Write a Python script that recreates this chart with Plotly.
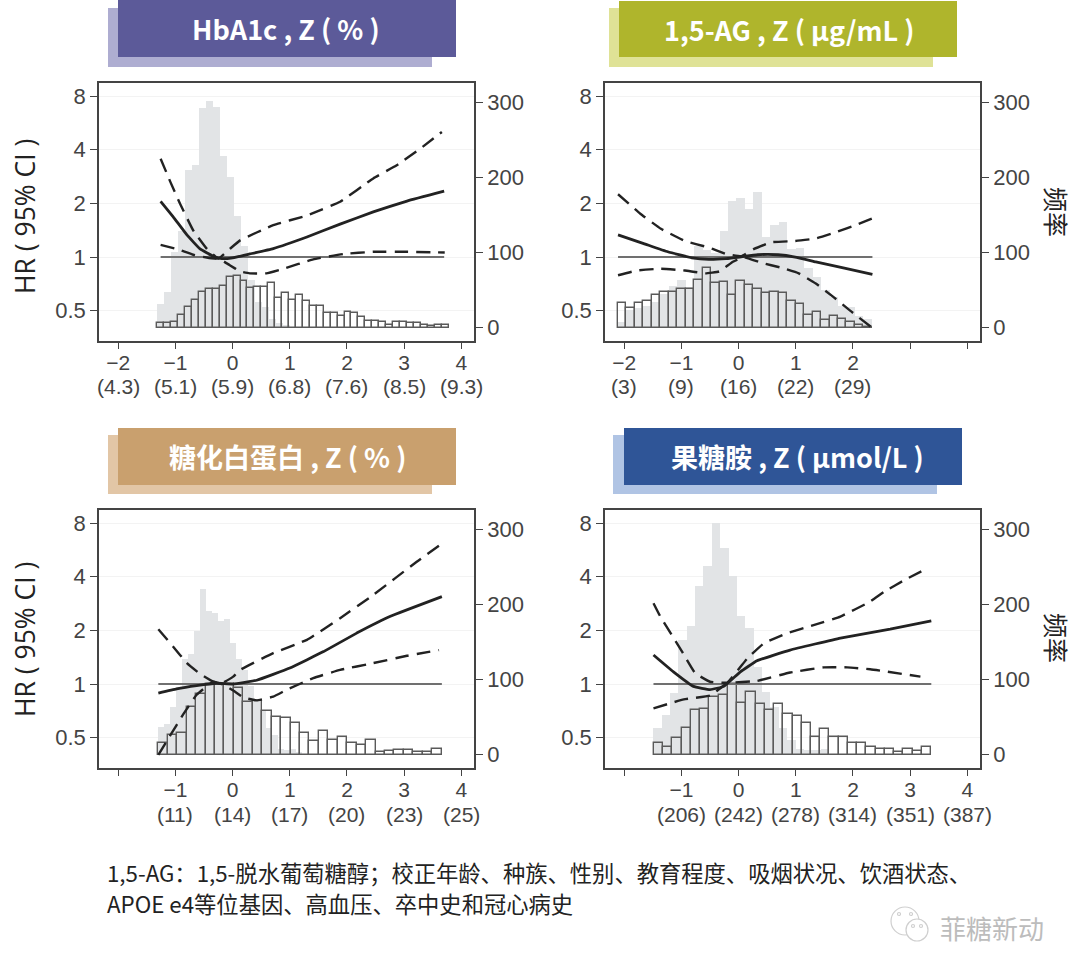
import plotly.graph_objects as go

W, H = 1080, 974
# ---------- tick text ----------
z_ticks = [-2, -1, 0, 1, 2, 3, 4]
hr_ticks = [0.5, 1, 2, 4, 8]
freq_ticks = [0, 100, 200, 300]
labels_top = [
    ["−2", "−1", "0", "1", "2", "3", "4"],
    ["−2", "−1", "0", "1", "2", "", ""],
    ["", "−1", "0", "1", "2", "3", "4"],
    ["", "−1", "0", "1", "2", "3", "4"],
]
labels_raw = [
    ["(4.3)", "(5.1)", "(5.9)", "(6.8)", "(7.6)", "(8.5)", "(9.3)"],
    ["(3)", "(9)", "(16)", "(22)", "(29)", "", ""],
    ["", "(11)", "(14)", "(17)", "(20)", "(23)", "(25)"],
    ["", "(206)", "(242)", "(278)", "(314)", "(351)", "(387)"],
]
titles = ["HbA1c , Z ( % )", "1,5-AG , Z ( µg/mL )", "糖化白蛋白 , Z ( % )", "果糖胺 , Z ( µmol/L )"]

# ---------- panel 1 HbA1c ----------
p1_z = [-1.26, -1.04, -.80, -.57, -.34, -.19, 0, .30, .71, 1.30, 1.88, 2.46, 3.05, 3.70]
p1_hr = [2.05, 1.68, 1.33, 1.11, 1.01, .98, .99, 1.04, 1.115, 1.295, 1.53, 1.79, 2.06, 2.34]
p1_up_z = [-1.26, -1.09, -.92, -.69, -.45, -.25, -.05, .13, .71, 1.30, 1.88, 2.46, 2.87, 3.28, 3.66]
p1_up = [3.56, 2.64, 1.99, 1.41, 1.11, .98, 1.11, 1.24, 1.51, 1.71, 2.04, 2.76, 3.27, 4.05, 5.03]
p1_lo_z = [-1.26, -.98, -.69, -.43, -.22, -.05, .13, .30, .59, .89, 1.41, 1.94, 2.46, 3.05, 3.71]
p1_lo = [1.17, 1.11, 1.03, .99, .97, .90, .83, .81, .81, .86, .97, 1.04, 1.07, 1.07, 1.06]
p1_white = [6, 6, 7, 17, 27, 37, 48, 52, 51, 56, 67, 69, 62, 53, 54, 54, 60, 39, 46, 37, 44, 35, 29, 29, 19, 19,
            16, 21, 20, 14, 9, 9, 8, 4, 7, 8, 6, 6, 3, 2, 3, 3]
p1_gray = [31, 48, 100, 129, 210, 217, 292, 302, 294, 228, 200, 148, 108, 64, 34, 28, 12, 6, 4]

# ---------- panel 2 1,5-AG ----------
p2_z = [-2.11, -1.66, -1.24, -.82, -.52, -.22, .02, .33, .69, .99, 1.35, 1.83, 2.34]
p2_hr = [1.33, 1.19, 1.07, .99, .97, .98, 1, 1.03, 1.03, 1.0, .94, .87, .80]
p2_up_z = [-2.11, -1.72, -1.36, -.94, -.52, -.22, .05, .27, .57, .99, 1.35, 1.71, 2.07, 2.33]
p2_up = [2.25, 1.75, 1.44, 1.23, 1.13, 1.04, 1.01, 1.11, 1.21, 1.23, 1.27, 1.38, 1.52, 1.64]
p2_lo_z = [-2.11, -1.78, -1.36, -.94, -.58, -.34, -.10, .08, .39, .75, 1.05, 1.35, 1.65, 1.95, 2.34]
p2_lo = [.79, .84, .86, .84, .81, .83, .94, 1, .93, .87, .81, .71, .60, .50, .40]
p2_white = [33, 26, 33, 36, 44, 47, 48, 52, 52, 63, 79, 59, 61, 44, 62, 57, 52, 46, 48, 46, 35, 32, 17, 21, 10, 15,
            11, 7, 4, 1]
p2_gray = [8, 23, 26, 29, 34, 45, 56, 64, 54, 108, 103, 99, 128, 169, 172, 158, 181, 121, 137, 141, 105, 106, 80,
           67, 50, 41, 29, 28, 15, 11]

# ---------- panel 3 glycated albumin ----------
p3_z = [-1.30, -.98, -.63, -.28, .01, .42, 1.0, 1.59, 2.17, 2.75, 3.66]
p3_hr = [.89, .94, .98, 1.01, 1, 1.05, 1.23, 1.52, 1.93, 2.39, 3.09]
p3_up_z = [-1.30, -1.04, -.80, -.57, -.34, -.19, .01, .13, .71, 1.30, 1.88, 2.46, 3.22, 3.64]
p3_up = [2.03, 1.62, 1.31, 1.14, 1.03, 1.01, 1.10, 1.20, 1.49, 1.77, 2.34, 3.16, 4.85, 6.07]
p3_lo_z = [-1.30, -1.10, -.86, -.63, -.34, -.16, .01, .19, .42, .71, .95, 1.41, 1.88, 2.46, 3.05, 3.61]
p3_lo = [.40, .51, .68, .87, 1.03, .99, .92, .84, .81, .85, .93, 1.08, 1.20, 1.31, 1.44, 1.55]
p3_white = [15, 26, 29, 63, 81, 94, 94, 94, 89, 70, 71, 58, 50, 49, 42, 29, 18, 32, 19, 24, 16, 13, 20, 4, 5, 6, 6,
            4, 4, 7]
p3_gray = [37, 41, 63, 90, 127, 134, 164, 221, 191, 188, 178, 180, 149, 127, 112, 92, 72, 59, 35, 26, 8, 6, 7, 4]

# ---------- panel 4 fructosamine ----------
p4_z = [-1.49, -1.14, -.79, -.50, -.26, .03, .32, .90, 1.78, 2.65, 3.37]
p4_hr = [1.455, 1.17, .97, .93, .97, 1.17, 1.35, 1.55, 1.81, 2.03, 2.26]
p4_up_z = [-1.49, -1.37, -1.19, -.99, -.76, -.50, -.20, .15, .44, .85, 1.31, 1.78, 2.30, 2.55, 2.92, 3.27]
p4_up = [2.84, 2.39, 1.93, 1.52, 1.15, 1.03, 1.02, 1.39, 1.69, 1.93, 2.14, 2.39, 2.90, 3.30, 3.86, 4.40]
p4_lo_z = [-1.49, -.96, -.50, -.20, .32, .90, 1.49, 1.90, 2.30, 3.18]
p4_lo = [.73, .82, .86, 1.01, 1.04, 1.16, 1.24, 1.24, 1.21, 1.10]
p4_white = [16, 10, 22, 36, 59, 61, 77, 79, 94, 69, 83, 68, 60, 67, 54, 52, 42, 24, 34, 24, 23, 16, 16, 10, 7, 8, 4,
            8, 5, 10]
p4_gray = [36, 53, 82, 152, 171, 224, 251, 308, 275, 237, 185, 168, 117, 84, 64, 35, 19, 8, 6, 6, 7]

panels = [
    dict(c=(p1_z, p1_hr), u=(p1_up_z, p1_up), l=(p1_lo_z, p1_lo), w=p1_white, g=p1_gray,
         wb=(-1.318, .1213), gb=(-1.318, .1225)),
    dict(c=(p2_z, p2_hr), u=(p2_up_z, p2_up), l=(p2_lo_z, p2_lo), w=p2_white, g=p2_gray,
         wb=(-2.11, .148), gb=(-2.11, .148)),
    dict(c=(p3_z, p3_hr), u=(p3_up_z, p3_up), l=(p3_lo_z, p3_lo), w=p3_white, g=p3_gray,
         wb=(-1.30, .1652), gb=(-1.30, .105)),
    dict(c=(p4_z, p4_hr), u=(p4_up_z, p4_up), l=(p4_lo_z, p4_lo), w=p4_white, g=p4_gray,
         wb=(-1.482, .1616), gb=(-1.494, .1464)),
]

# pixel layout: x0, x1, y0, y1
boxes = [(99, 474, 83, 341), (605, 980, 83, 341), (99, 474, 510, 768), (605, 980, 510, 768)]
raw_y = [387, 387, 814, 814]
TICK = "#444444"
FS = 22
FSX = 21
SANS = "Liberation Sans, Arial, sans-serif"
CJK = "Noto Sans CJK SC, Open Sans, sans-serif"

fig = go.Figure()
layout = {}
annotations = []
shapes = []


def px(v):
    return v / W


def py(v):
    return 1 - v / H


def note(x, y, text, size, color, family=CJK, angle=0, xanchor="center", xref="paper"):
    annotations.append(dict(x=x, y=y, xref=xref, yref="paper", text=text, showarrow=False,
                            xanchor=xanchor, yanchor="middle", textangle=angle, borderpad=0,
                            font=dict(family=family, size=size, color=color)))


for i, (p, b) in enumerate(zip(panels, boxes)):
    n = i + 1
    xa, ya, ya2 = f"x{n}", f"y{n}", f"y{n + 4}"
    start, w = p["gb"]
    fig.add_bar(x=[start + w * (k + .5) for k in range(len(p["g"]))], y=p["g"], width=w,
                marker=dict(color="#e2e4e6", line=dict(width=0)), xaxis=xa, yaxis=ya, showlegend=False)
    start, w = p["wb"]
    fig.add_bar(x=[start + w * (k + .5) for k in range(len(p["w"]))], y=p["w"], width=w,
                marker=dict(color="rgba(255,255,255,0)", line=dict(color="#5a5a5a", width=1.4)),
                xaxis=xa, yaxis=ya, showlegend=False)
    zs = p["c"][0]
    fig.add_scatter(x=[zs[0], zs[-1]], y=[1, 1], mode="lines", line=dict(color="#707070", width=1.8),
                    xaxis=xa, yaxis=ya2, showlegend=False)
    for key in "ul":
        fig.add_scatter(x=p[key][0], y=p[key][1], mode="lines",
                        line=dict(color="#222222", width=2.4, dash="14px,8px", shape="spline", smoothing=.3),
                        xaxis=xa, yaxis=ya2, showlegend=False)
    fig.add_scatter(x=p["c"][0], y=p["c"][1], mode="lines",
                    line=dict(color="#222222", width=2.8, shape="spline", smoothing=.3),
                    xaxis=xa, yaxis=ya2, showlegend=False)

    x0, x1, y0, y1 = b
    xsuf = "" if n == 1 else str(n)
    layout[f"xaxis{xsuf}"] = dict(
        domain=[px(x0), px(x1)], range=[-2.338, 4.222], anchor=ya, tickvals=z_ticks, ticktext=labels_top[i],
        ticks="outside", ticklen=6, tickwidth=1.4, tickcolor=TICK, showline=True, mirror=True, linecolor=TICK,
        linewidth=1.6, showgrid=False, zeroline=False, ticklabelstandoff=-4, tickangle=0,
        tickfont=dict(family=SANS, size=FSX, color=TICK))
    layout[f"yaxis{xsuf}"] = dict(
        domain=[py(y1), py(y0)], range=[-17.7, 325.4], anchor=xa, side="right", tickvals=freq_ticks,
        ticks="outside", ticklen=7, tickwidth=1.4, tickcolor=TICK, showline=True, linecolor=TICK, linewidth=1.6,
        showgrid=False, zeroline=False, tickfont=dict(family=SANS, size=FS, color=TICK))
    layout[f"yaxis{n + 4}"] = dict(
        domain=[py(y1), py(y0)], range=[-0.471, 0.976], type="log", overlaying=ya, anchor=xa, side="left",
        tickvals=hr_ticks, ticktext=["0.5", "1", "2", "4", "8"], ticks="outside", ticklen=7, tickwidth=1.4,
        tickcolor=TICK, showline=True, linecolor=TICK, linewidth=1.6, showgrid=True, gridcolor="#f3f3f3",
        gridwidth=1, zeroline=False, tickfont=dict(family=SANS, size=FS, color=TICK))
    for z, t in zip(z_ticks, labels_raw[i]):
        if t:
            note(z, py(raw_y[i]), t, FSX, TICK, family=SANS, xref=xa)

# header plates: (shadow x0,x1,y0,y1,colour), (front ..., colour), text centre
plates = [
    ((108, 432, 8, 67, "#aeadd1"), (118, 456, -2, 57, "#5c5a99"), 286, 29),
    ((609, 933, 8, 67, "#dfe296"), (619, 957, 1, 57, "#afb52c"), 789, 30),
    ((108, 432, 435, 494, "#e2c6a6"), (118, 456, 428, 485, "#c9a06e"), 287, 457),
    ((613, 937, 435, 494, "#b0c4e4"), (624, 962, 428, 485, "#2f5597"), 797, 457),
]
for (sh, fr, cx, cy), title in zip(plates, titles):
    for s in (sh, fr):
        shapes.append(dict(type="rect", xref="paper", yref="paper", x0=px(s[0]), x1=px(s[1]), y0=py(s[2]),
                           y1=py(s[3]), fillcolor=s[4], line=dict(width=0), layer="below"))
    note(px(cx), py(cy), f"<b>{title}</b>", 27, "white")

for yc in (217, 640):
    note(px(25), py(yc), "HR ( 95% CI )", 26.5, "#222222", family="Open Sans, sans-serif", angle=-90)
for yc in (212, 638):
    note(px(1057), py(yc), "频率", 25, "#222222", angle=90)

notes = [("1,5-AG：1,5-脱水葡萄糖醇；校正年龄、种族、性别、教育程度、吸烟状况、饮酒状态、", 872),
         ("APOE e4等位基因、高血压、卒中史和冠心病史", 903)]
for text, yc in notes:
    note(px(106), py(yc), text, 22.3, "#222222", xanchor="left")

note(px(992), py(927), "菲糖新动", 26, "#bcbcbc")
# WeChat mark
for (cx, cy), r in (((905, 921), 14), ((917, 930), 11), ((899, 914), 1.5), ((911, 914), 1.5),
                    ((913, 926), 1.5), ((921, 926), 1.5)):
    shapes.append(dict(type="circle", xref="paper", yref="paper", x0=px(cx - r), x1=px(cx + r),
                       y0=py(cy - r), y1=py(cy + r), line=dict(color="#cfcfcf", width=1.2),
                       fillcolor="white"))

fig.update_layout(width=W, height=H, margin=dict(l=0, r=0, t=0, b=0, autoexpand=False), paper_bgcolor="white",
                  plot_bgcolor="white", barmode="overlay", bargap=0, showlegend=False, annotations=annotations,
                  shapes=shapes, font=dict(family=SANS), **layout)
fig.write_html("out.html", config=dict(displayModeBar=False),
               post_script="document.body.style.margin='0';")
